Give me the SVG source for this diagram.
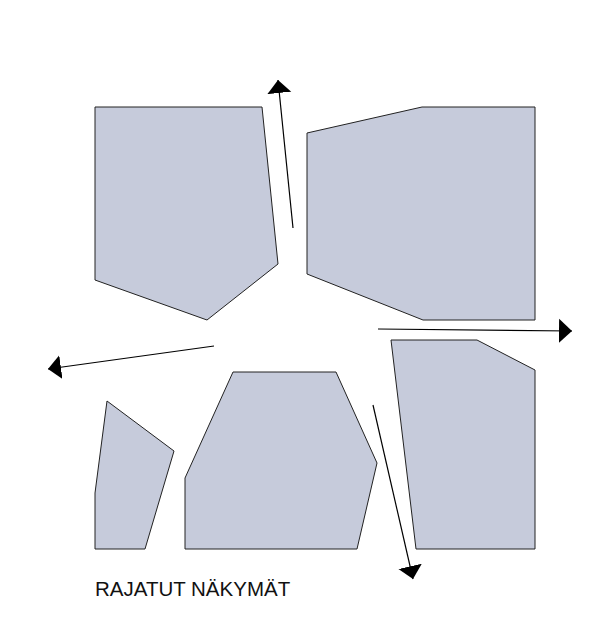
<svg xmlns="http://www.w3.org/2000/svg" width="605" height="636" viewBox="0 0 605 636">
<style>
.p{fill:#c6cbdb;stroke:#222;stroke-width:1}
.c{stroke:#000;stroke-width:1.2;fill:none;marker-end:url(#ah)}
text{font-family:"Liberation Sans",Arial,sans-serif;font-size:20.5px;fill:#111}
</style>
<defs>
<marker id="ah" markerUnits="userSpaceOnUse" markerWidth="26" markerHeight="26" refX="13" refY="12" orient="auto" viewBox="0 0 26 24">
<path d="M0,0 L13,12 L0,24 Z" fill="#000"/>
</marker>
</defs>
<rect width="605" height="636" fill="#fff"/>
<g id="n1"><polygon class="p" points="95,107 262,107 278,264 207,320 95,280"/></g>
<g id="n2"><polygon class="p" points="307,133 422,107 535,107 535,320 423,320 307,274"/></g>
<g id="n3"><polygon class="p" points="391,340 477,340 535,370 535,549 416,549"/></g>
<g id="n4"><polygon class="p" points="233,372 336,372 377,463 357,549 185,549 185,478"/></g>
<g id="n5"><polygon class="p" points="107,401 174,451 145,549 95,549 95,493"/></g>
<g id="connectors">
<line class="c" x1="293" y1="228" x2="278" y2="80"/>
<line class="c" x1="214" y1="346" x2="48" y2="369"/>
<line class="c" x1="378" y1="329" x2="572" y2="331"/>
<line class="c" x1="373" y1="405" x2="413" y2="579"/>
</g>
<text x="95" y="596">RAJATUT NÄKYMÄT</text>
</svg>
